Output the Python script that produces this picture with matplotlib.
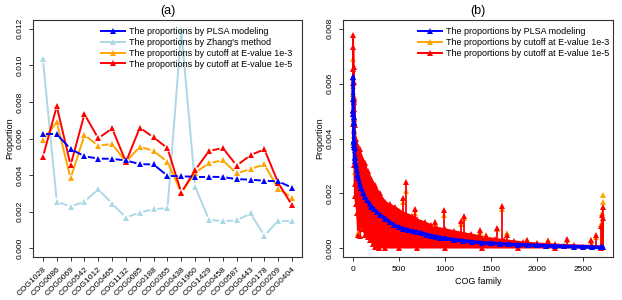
import numpy as np
import matplotlib
matplotlib.use('Agg')
import matplotlib.pyplot as plt
from matplotlib.collections import LineCollection
from matplotlib.lines import Line2D

plt.rcParams['font.family'] = ['Liberation Sans', 'DejaVu Sans']

# ---- panel (a): top 19 COG families, ordered by PLSA proportion ----
cogs = ['COG1028', 'COG0086', 'COG0069', 'COG0542', 'COG1012', 'COG0465',
        'COG1132', 'COG0085', 'COG0188', 'COG0365', 'COG0438', 'COG1960',
        'COG1429', 'COG0458', 'COG0587', 'COG0443', 'COG0178', 'COG0209',
        'COG0404']
plsa = [0.00623, 0.00623, 0.00543, 0.00503, 0.00490, 0.00489, 0.00480,
        0.00460, 0.00458, 0.00396, 0.00393, 0.00391, 0.00391, 0.00389,
        0.00378, 0.00375, 0.00369, 0.00366, 0.00331]
zhang = [0.01033, 0.00255, 0.00228, 0.00255, 0.00322, 0.00244, 0.00168,
         0.00195, 0.00214, 0.00219, 0.01191, 0.00337, 0.00156, 0.00148,
         0.00152, 0.00190, 0.00069, 0.00150, 0.00150]
cut_e3 = [0.00592, 0.00690, 0.00382, 0.00619, 0.00561, 0.00570, 0.00472,
          0.00556, 0.00532, 0.00472, 0.00304, 0.00413, 0.00465, 0.00481,
          0.00409, 0.00434, 0.00458, 0.00326, 0.00277]
cut_e5 = [0.00500, 0.00776, 0.00454, 0.00733, 0.00601, 0.00655, 0.00472,
          0.00659, 0.00606, 0.00547, 0.00304, 0.00427, 0.00532, 0.00548,
          0.00452, 0.00509, 0.00541, 0.00358, 0.00235]

# ---- panel (b): all COG families ranked by PLSA (ranks 1-19 as above) ----
plsa_rank = [20, 25, 30, 40, 50, 60, 77, 90, 110, 130, 150, 186, 200, 230,
             260, 300, 350, 400, 450, 500, 550, 600, 650, 700, 750, 800, 850,
             900, 950, 1000, 1100, 1200, 1300, 1400, 1500, 1600, 1700, 1800,
             1900, 2000, 2100, 2200, 2300, 2400, 2500, 2600, 2700, 2720]
plsa_tail = [0.00330, 0.00318, 0.00305, 0.00285, 0.00268, 0.00255, 0.00230,
             0.00218, 0.00200, 0.00186, 0.00175, 0.00160, 0.00152, 0.00142,
             0.00132, 0.00120, 0.00108, 0.00095, 0.00085, 0.00077, 0.00071,
             0.00066, 0.00062, 0.00059, 0.00055, 0.00050, 0.00046, 0.00042,
             0.00039, 0.00036, 0.00031, 0.00027, 0.00023, 0.00020, 0.00018,
             0.00016, 0.00014, 0.00013, 0.00011, 0.00010, 0.00009, 0.00008,
             0.00007, 0.00006, 0.00005, 0.00004, 0.00003, 0.00003]

# upper / lower edge of the red (1e-5) scatter band
band_hi_rank = [20, 30, 40, 50, 60, 77, 100, 131, 160, 190, 241, 290, 350,
                400, 460, 550, 642, 700, 788, 850, 915, 1000, 1095, 1180,
                1280, 1370, 1463, 1550, 1645, 1750, 1850, 2000, 2200, 2400,
                2600, 2700]
band_hi = [0.0045, 0.0040, 0.0038, 0.0037, 0.0036, 0.0036, 0.0033, 0.0031,
           0.0028, 0.0026, 0.0023, 0.0020, 0.0017, 0.0016, 0.0015, 0.0013,
           0.00118, 0.00105, 0.00094, 0.00085, 0.00075, 0.00070, 0.00063,
           0.00057, 0.00051, 0.00045, 0.00039, 0.00034, 0.00030, 0.00026,
           0.00022, 0.00018, 0.00014, 0.00011, 0.00009, 0.00007]
band_lo_rank = [20, 35, 45, 55, 65, 77, 90, 110, 130, 160, 190, 215, 240,
                280, 350, 500, 700, 1000, 1400, 1800, 2200, 2700]
band_lo = [0.0019, 0.0016, 0.0013, 0.0005, 0.0012, 0.00045, 0.0009, 0.0007,
           0.0005, 0.0004, 0.0003, 0.00015, 0.00005, 0.00002, 0.00002,
           0.00002, 0.00002, 0.00002, 0.00002, 0.00002, 0.00002, 0.00002]

spike_rank = [540, 580, 671, 897, 988, 1171, 1207, 1382, 1444, 1572, 1619,
              1674, 1893, 2120, 2330, 2592, 2647, 2700, 2710, 2715, 2720]
spike_e5 = [0.00184, 0.0024, 0.00142, 0.00094, 0.0014, 0.0010, 0.00118,
            0.00067, 0.00045, 0.00075, 0.00154, 0.00048, 0.0003, 0.00025,
            0.00035, 0.0003, 0.00047, 0.0008, 0.0012, 0.00152, 0.0011]
spike_e3 = [0.0017, 0.00209, 0.0013, 0.0009, 0.0012, 0.0009, 0.0011, 0.0006,
            0.0005, 0.0007, 0.00144, 0.00057, 0.0003, 0.0003, 0.0003,
            0.00028, 0.0004, 0.0009, 0.0013, 0.0017, 0.00193]

BLUE, LBLUE, ORANGE, RED = '#0000FF', '#ADD8E6', '#FFA500', '#FF0000'


def type_b(ax, x, y, color, gap=3.5, lw=1.4, ms=4.6):
    # R style type="b": points joined by segments that stop short of each point
    pts = ax.transData.transform(np.column_stack([x, y]))
    inv = ax.transData.inverted()
    segs = []
    for p0, p1 in zip(pts[:-1], pts[1:]):
        d = p1 - p0
        L = np.hypot(*d)
        if L <= 2 * gap:
            continue
        u = d / L
        segs.append(inv.transform([p0 + u * gap, p1 - u * gap]))
    ax.add_collection(LineCollection(segs, colors=color, linewidths=lw))
    ax.plot(x, y, ls='none', marker='^', color=color, ms=ms, mew=0)


def style(ax):
    for s in ax.spines.values():
        s.set_linewidth(0.8)
        s.set_color('#333333')
    ax.tick_params(length=3, width=0.7, labelsize=6, color='#333333')
    ax.tick_params(axis='y', labelrotation=90)
    for lab in ax.get_yticklabels():
        lab.set_va('center')


fig = plt.figure(figsize=(6.22, 3.0), dpi=100)

# ---------------- (a) ----------------
ax = fig.add_axes([0.053, 0.1433, 0.4325, 0.79])
xa = np.arange(1, len(cogs) + 1)
ax.set_xlim(0.28, 19.72)
ax.set_ylim(-0.00048, 0.01248)
ax.set_yticks(np.arange(0, 0.0121, 0.002))
ax.set_yticklabels([f'{v:.3f}' for v in np.arange(0, 0.0121, 0.002)])
ax.set_xticks(xa)
ax.set_xticklabels(cogs, rotation=45, ha='right', rotation_mode='anchor')
style(ax)
ax.set_ylabel('Proportion', fontsize=6.5, labelpad=2)
ax.set_title('(a)', fontsize=9, pad=4)

type_b(ax, xa, zhang, LBLUE)
type_b(ax, xa, cut_e3, ORANGE)
type_b(ax, xa, cut_e5, RED)
type_b(ax, xa, plsa, BLUE)

labels_a = ['The proportions by PLSA modeling', "The proportions by Zhang's method",
            'The proportions by cutoff at E-value 1e-3',
            'The proportions by cutoff at E-value 1e-5']
handles_a = [Line2D([], [], color=c, marker='^', lw=1.4, ms=4.6, mew=0)
             for c in (BLUE, LBLUE, ORANGE, RED)]
ax.legend(handles_a, labels_a, loc='upper left', bbox_to_anchor=(0.24, 0.985),
          frameon=False, fontsize=6.5, handlelength=2.6, handletextpad=0.5,
          labelspacing=0.2, borderaxespad=0)

# ---------------- (b) ----------------
bx = fig.add_axes([0.5514, 0.1433, 0.4341, 0.79])
bx.set_xlim(-108, 2829)
bx.set_ylim(-0.00032, 0.00832)
bx.set_yticks(np.arange(0, 0.0081, 0.002))
bx.set_yticklabels([f'{v:.3f}' for v in np.arange(0, 0.0081, 0.002)])
bx.set_xticks([0, 500, 1000, 1500, 2000, 2500])
style(bx)
bx.set_ylabel('Proportion', fontsize=6.5, labelpad=2)
bx.set_xlabel('COG family', fontsize=6.5, labelpad=3)
bx.set_title('(b)', fontsize=9, pad=4)

# 1e-3 series (mostly hidden behind the 1e-5 series)
bx.plot(xa, cut_e3, color=ORANGE, lw=1.4, marker='^', ms=4, mew=0)
bx.plot(spike_rank, spike_e3, ls='none', marker='^', color=ORANGE, ms=4.5, mew=0)
bx.plot([60], [0.00057], ls='none', marker='^', color=ORANGE, ms=4.5, mew=0)

# 1e-5 series
bx.plot(xa, cut_e5, color=RED, lw=1.4, marker='^', ms=4, mew=0)
bx.fill(band_hi_rank + band_lo_rank[::-1], band_hi + band_lo[::-1],
        color=RED, lw=1.2, ec=RED)
bx.plot(band_hi_rank, band_hi, ls='none', marker='^', color=RED, ms=4, mew=0)
bx.plot(band_lo_rank, band_lo, ls='none', marker='^', color=RED, ms=4, mew=0)
bx.vlines(spike_rank, 0, spike_e5, color=RED, lw=1.3)
bx.plot(spike_rank, spike_e5, ls='none', marker='^', color=RED, ms=4.5, mew=0)

# PLSA series on top
bx.plot(list(xa) + plsa_rank, plsa + plsa_tail, color=BLUE, lw=2.6,
        marker='^', ms=3.8, mew=0, solid_capstyle='round')

labels_b = ['The proportions by PLSA modeling',
            'The proportions by cutoff at E-value 1e-3',
            'The proportions by cutoff at E-value 1e-5']
handles_b = [Line2D([], [], color=c, marker='^', lw=1.4, ms=4.6, mew=0)
             for c in (BLUE, ORANGE, RED)]
bx.legend(handles_b, labels_b, loc='upper left', bbox_to_anchor=(0.265, 0.985),
          frameon=False, fontsize=6.5, handlelength=2.6, handletextpad=0.5,
          labelspacing=0.2, borderaxespad=0)

fig.savefig('out.png', dpi=100)
